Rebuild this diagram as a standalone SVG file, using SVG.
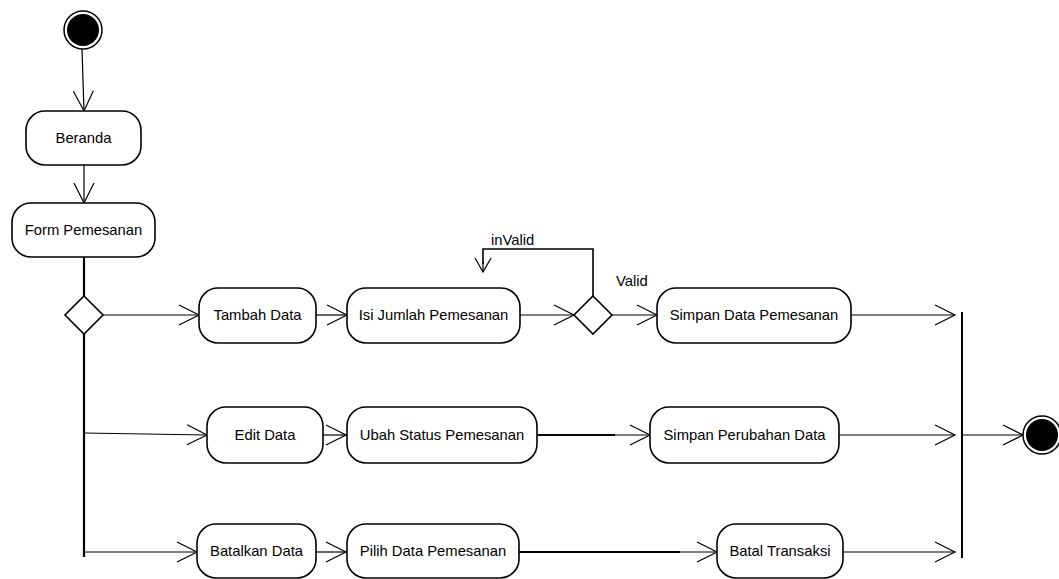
<svg xmlns="http://www.w3.org/2000/svg" width="1059" height="579" viewBox="0 0 1059 579">
<style>
.n{fill:#fff;stroke:#000;stroke-width:1.6}
.t{font-family:"Liberation Sans",Arial,sans-serif;font-size:14.8px;fill:#000;text-anchor:middle;dominant-baseline:central}
.l{font-family:"Liberation Sans",Arial,sans-serif;font-size:14.8px;fill:#000}
.c{fill:none;stroke:#000;stroke-width:1.2}
.th{fill:none;stroke:#000;stroke-width:2.2}
</style>
<defs>
<marker id="a" markerUnits="userSpaceOnUse" markerWidth="24" markerHeight="24" viewBox="0 0 24 24" refX="21" refY="12" orient="auto">
<path d="M1,2 L21,12 L1,22" fill="none" stroke="#000" stroke-width="1.2"/>
</marker>
<marker id="s" markerUnits="userSpaceOnUse" markerWidth="20" markerHeight="20" viewBox="0 0 20 20" refX="15" refY="10" orient="auto">
<path d="M1,2 L15,10 L1,18" fill="none" stroke="#000" stroke-width="1.2"/>
</marker>
</defs>
<g id="connectors">
<path class="c" d="M82,49 L84,111" marker-end="url(#a)"/>
<path class="c" d="M84,165 L84,203" marker-end="url(#a)"/>
<path class="th" d="M84,257 L84,296"/>
<path class="th" d="M84,334 L84,557"/>
<path class="c" d="M103,315 L199,315" marker-end="url(#a)"/>
<path class="c" d="M84,433 L207,435" marker-end="url(#a)"/>
<path class="c" d="M84,552 L197,552" marker-end="url(#a)"/>
<path class="c" d="M316,315 L347,315" marker-end="url(#a)"/>
<path class="c" d="M520,315 L574,315" marker-end="url(#a)"/>
<path fill="none" stroke="#000" stroke-width="1.6" d="M593,296 L593,249 L483,249 L483,264"/>
<path class="c" d="M483,262 L483,272" marker-end="url(#s)"/>
<path class="c" d="M612,315 L657,315" marker-end="url(#a)"/>
<path class="c" d="M851,315 L955,315" marker-end="url(#a)"/>
<path class="c" d="M323,435 L346,435" marker-end="url(#a)"/>
<path class="th" d="M537,435 L615,435"/>
<path class="c" d="M613,435 L650,435" marker-end="url(#a)"/>
<path class="c" d="M839,435 L955,435" marker-end="url(#a)"/>
<path class="c" d="M962,435 L1023,435" marker-end="url(#a)"/>
<path class="c" d="M316,552 L346,552" marker-end="url(#a)"/>
<path class="th" d="M519,552 L680,552"/>
<path class="c" d="M678,552 L717,552" marker-end="url(#a)"/>
<path class="c" d="M843,552 L955,552" marker-end="url(#a)"/>
<text class="l" x="491" y="245">inValid</text>
<text class="l" x="616" y="286">Valid</text>
</g>
<g id="start"><circle cx="83" cy="30" r="19" fill="#fff" stroke="#000" stroke-width="1.5"/><circle cx="83" cy="30" r="16" fill="#000"/></g>
<g id="beranda"><rect class="n" x="26" y="111" width="115" height="54" rx="19"/><text class="t" x="83.5" y="138">Beranda</text></g>
<g id="form"><rect class="n" x="12" y="203" width="143" height="54" rx="19"/><text class="t" x="83.5" y="230">Form Pemesanan</text></g>
<g id="decision1"><path class="n" d="M84,296 L103,315 L84,334 L65,315 Z"/></g>
<g id="tambah"><rect class="n" x="199" y="288" width="117" height="55" rx="19"/><text class="t" x="257.5" y="315">Tambah Data</text></g>
<g id="isi"><rect class="n" x="347" y="288" width="173" height="55" rx="19"/><text class="t" x="433.5" y="315">Isi Jumlah Pemesanan</text></g>
<g id="decision2"><path class="n" d="M593,296 L612,315 L593,334 L574,315 Z"/></g>
<g id="simpanData"><rect class="n" x="657" y="288" width="194" height="55" rx="19"/><text class="t" x="754" y="315">Simpan Data Pemesanan</text></g>
<g id="edit"><rect class="n" x="207" y="407" width="116" height="56" rx="19"/><text class="t" x="265" y="435">Edit Data</text></g>
<g id="ubah"><rect class="n" x="347" y="407" width="190" height="56" rx="19"/><text class="t" x="442" y="435">Ubah Status Pemesanan</text></g>
<g id="simpanPerubahan"><rect class="n" x="650" y="407" width="189" height="56" rx="19"/><text class="t" x="744.5" y="435">Simpan Perubahan Data</text></g>
<g id="batalkan"><rect class="n" x="197" y="524" width="119" height="54" rx="19"/><text class="t" x="256.5" y="551">Batalkan Data</text></g>
<g id="pilih"><rect class="n" x="347" y="524" width="172" height="54" rx="19"/><text class="t" x="433" y="551">Pilih Data Pemesanan</text></g>
<g id="batal"><rect class="n" x="717" y="524" width="126" height="54" rx="19"/><text class="t" x="780" y="551">Batal Transaksi</text></g>
<g id="join"><path d="M962,312 L962,558" stroke="#000" stroke-width="2"/></g>
<g id="end"><circle cx="1042" cy="435" r="19" fill="#fff" stroke="#000" stroke-width="1.5"/><circle cx="1042" cy="435" r="16" fill="#000"/></g>
</svg>
